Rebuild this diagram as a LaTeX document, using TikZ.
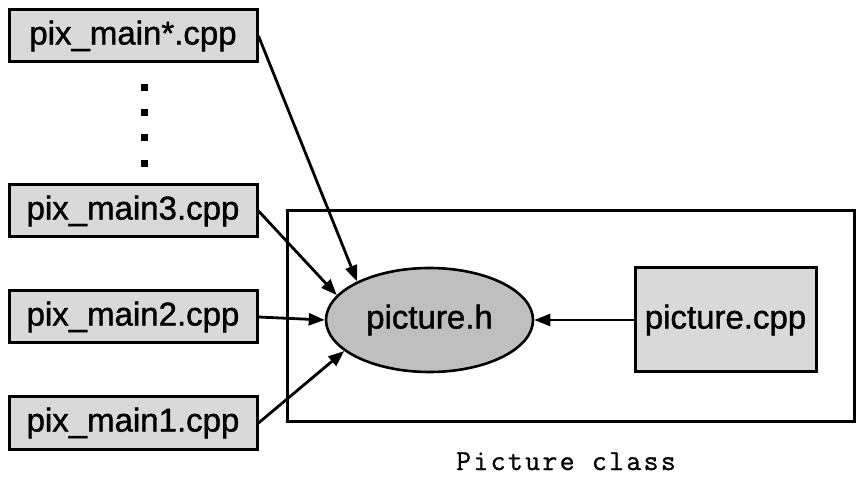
\documentclass[tikz,border=0pt]{standalone}
\usepackage{fontspec}
\setmainfont{Liberation Sans}[FakeBold=1.2]
\newfontfamily\clsfont{Latin Modern Mono}[FakeBold=1, LetterSpace=8]
\usepackage{xcolor}
\usepackage{tikz}
\usetikzlibrary{arrows.meta,positioning,shapes.geometric}

\definecolor{boxgray}{gray}{0.85}
\definecolor{headgray}{gray}{0.75}

\begin{document}
\begin{tikzpicture}[
        x=1pt, y=-1pt,
        node distance=51pt,
        srcfile/.style={draw, rectangle, line width=3pt, fill=boxgray, inner sep=0pt, minimum width=248pt, minimum height=52pt, font=\fontsize{33}{36}\selectfont},
        header/.style={draw, ellipse, line width=2.6pt, fill=headgray, inner sep=0pt, minimum width=207pt, minimum height=104pt, font=\fontsize{33}{36}\selectfont},
        implfile/.style={draw, rectangle, line width=3pt, fill=boxgray, inner sep=0pt, minimum width=181pt, minimum height=104pt, font=\fontsize{33}{36}\selectfont},
        classframe/.style={draw, rectangle, line width=3pt, inner sep=0pt, minimum width=567pt, minimum height=211pt},
        arr/.style={-{Triangle[length=16pt, width=12pt]}, line width=2.8pt}]

        \useasboundingbox (0,0) rectangle (860,478);

        % Class frame
        \node[classframe] (cls) at (570.5,316.5) {};
        \node[anchor=base, inner sep=0pt, font=\clsfont\fontsize{29}{31}\selectfont] (clsname) at (566,470) {Picture class};

        % Main programs
        \node[srcfile] (main1) at (133,423) {pix\_main1.cpp};
        \node[srcfile, above=of main1] (main2) {pix\_main2.cpp};
        \node[srcfile, above=of main2] (main3) {pix\_main3.cpp};
        \node[srcfile] (mainN) at (133,36) {pix\_main*.cpp};

        % more files in between
        \foreach \y in {88,113,138,164}
            \fill (144,\y) +(-3.5,-3.5) rectangle +(3.5,3.5);

        % Class files
        \node[header] (pich) at (429.5,320) {picture.h};
        \node[implfile] (piccpp) at (725.5,320) {picture.cpp};

        % Includes
        \draw[arr] (mainN.east) -- (pich.152);
        \draw[arr] (main3.east) -- (pich.165);
        \draw[arr] (main2.east) -- (pich.west);
        \draw[arr] (main1.east) -- (pich.200);
        \draw[arr] (piccpp.west) -- (pich.east);

    \end{tikzpicture}
\end{document}
